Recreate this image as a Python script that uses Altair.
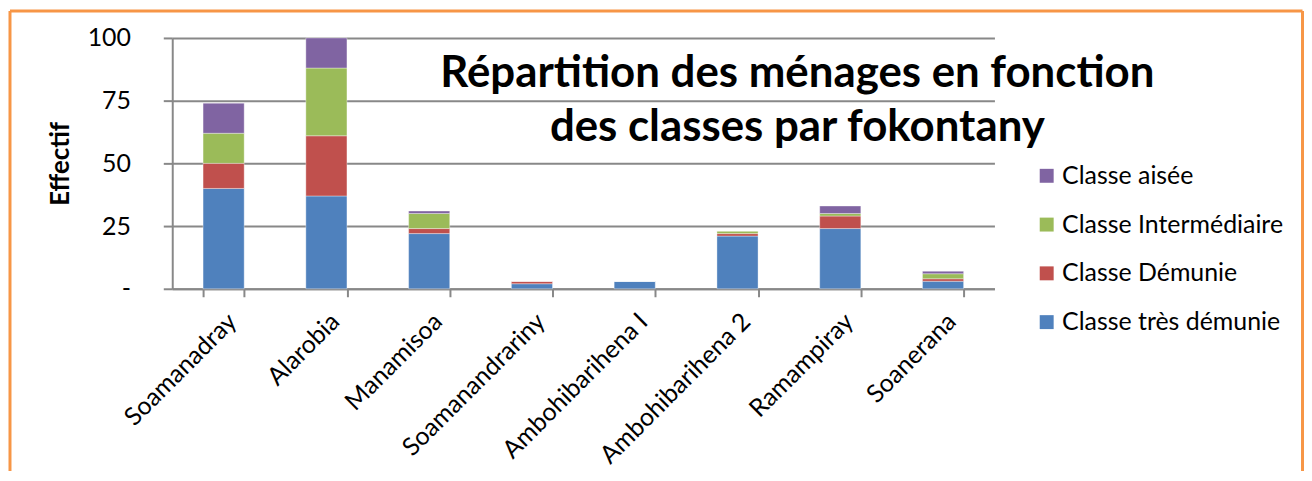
import altair as alt
import pandas as pd

categories = ["Soamanadray", "Alarobia", "Manamisoa", "Soamanandrariny",
              "Ambohibarihena I", "Ambohibarihena 2", "Ramampiray", "Soanerana"]
series_names = ["Classe très démunie", "Classe Démunie", "Classe Intermédiaire", "Classe aisée"]
tres_demunie = [40, 37, 22, 2, 3, 21, 24, 3]
demunie = [10, 24, 2, 1, 0, 1, 5, 1]
intermediaire = [12, 27, 6, 0, 0, 1, 1, 2]
aisee = [12, 12, 1, 0, 0, 0, 3, 1]
colors = {"Classe aisée": "#8064A2", "Classe Intermédiaire": "#9BBB59",
          "Classe Démunie": "#C0504D", "Classe très démunie": "#4F81BD"}
legend_order = ["Classe aisée", "Classe Intermédiaire", "Classe Démunie", "Classe très démunie"]
title_lines = ["Répartition des ménages en fonction", "des classes par fokontany"]
y_ticks = [0, 25, 50, 75, 100]

rows = []
for si, (name, vals) in enumerate(zip(series_names, [tres_demunie, demunie, intermediaire, aisee])):
    for c, v in zip(categories, vals):
        rows.append({"fokontany": c, "classe": name, "effectif": v, "ordre": si})
df = pd.DataFrame(rows)

FONT = "Lato"
W, H = 826, 252

bars = alt.Chart(df).mark_bar(stroke="white", strokeWidth=0.6, strokeOpacity=0.6).encode(
    x=alt.X("fokontany:N", sort=categories,
            scale=alt.Scale(paddingInner=0.6, paddingOuter=0.3),
            axis=alt.Axis(title=None, labelAngle=-45, labelFontSize=25, labelFont=FONT,
                          labelColor="black", tickBand="extent", tickSize=8, tickColor="#888888",
                          tickWidth=2, domainColor="#888888", domainWidth=2, labelPadding=12,
                          labelLimit=400)),
    y=alt.Y("effectif:Q", stack="zero",
            scale=alt.Scale(domain=[0, 100], nice=False),
            axis=alt.Axis(title="Effectif", values=y_ticks, titleFont=FONT, titleFontSize=26,
                          titleFontWeight="bold", titleColor="black", titlePadding=14,
                          labelFont=FONT, labelFontSize=25, labelColor="black",
                          labelExpr="datum.value == 0 ? '-\u00a0\u00a0\u00a0' : datum.label",
                          labelPadding=33, tickSize=9, tickColor="#888888", tickWidth=2,
                          gridColor="#888888", gridWidth=2, domainColor="#888888", domainWidth=2)),
    color=alt.Color("classe:N",
                    scale=alt.Scale(domain=legend_order, range=[colors[k] for k in legend_order]),
                    legend=alt.Legend(title=None, orient="none", legendX=866, legendY=126,
                                      labelFont=FONT, labelFontSize=25, labelColor="black",
                                      labelLimit=400,
                                      symbolType="square", symbolSize=196, symbolStrokeWidth=0,
                                      rowPadding=23, labelOffset=3, padding=0)),
    order=alt.Order("ordre:Q", sort="ascending"),
)

one = pd.DataFrame({"k": [0]})

title = alt.Chart(one).mark_text(
    font=FONT, fontSize=44, fontWeight="bold", color="black",
    align="center", baseline="alphabetic", lineHeight=55,
).encode(x=alt.value(628), y=alt.value(49), text=alt.value(title_lines))

border_color = "#F79646"
left_rule = alt.Chart(one).mark_rule(color=border_color, strokeWidth=3).encode(
    x=alt.value(-163), y=alt.value(-27), y2=alt.value(435))
top_rule = alt.Chart(one).mark_rule(color=border_color, strokeWidth=3).encode(
    x=alt.value(-163), x2=alt.value(1135.5), y=alt.value(-27))
right_rule = alt.Chart(one).mark_rule(color=border_color, strokeWidth=3).encode(
    x=alt.value(1135.5), y=alt.value(-27), y2=alt.value(435))

chart = alt.layer(bars, title, left_rule, top_rule, right_rule).properties(
    width=W, height=H, padding=0, background="white"
).configure_view(stroke=None)

chart.save("out.html", embed_options={"renderer": "svg", "actions": False})
